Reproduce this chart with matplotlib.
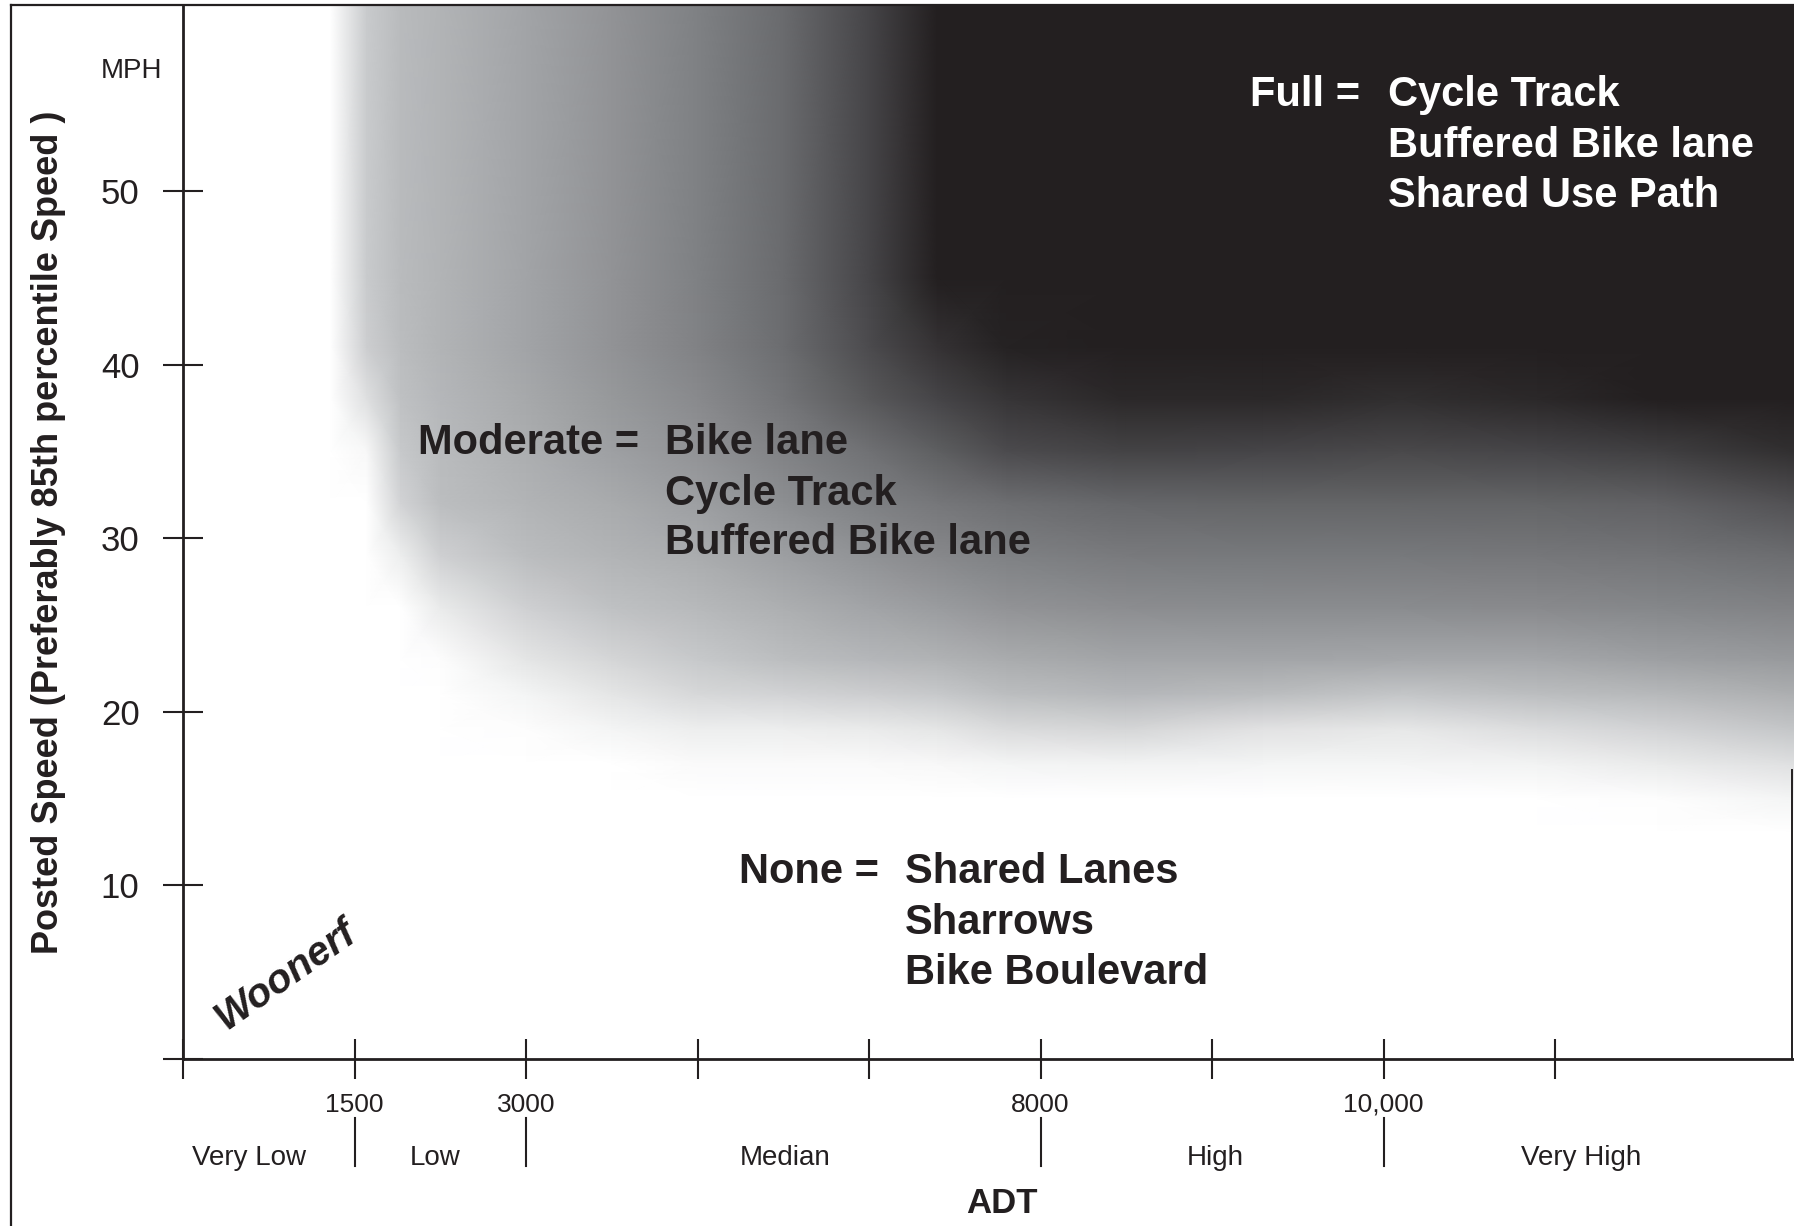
import matplotlib
matplotlib.use("Agg")
import matplotlib.pyplot as plt
import matplotlib.transforms as mtransforms
from matplotlib.colors import LinearSegmentedColormap
from matplotlib.lines import Line2D
import numpy as np

plt.rcParams['font.family'] = ['Liberation Sans', 'DejaVu Sans']

INK = '#231f20'

# ---------------- data ----------------
# ADT axis: evenly spaced tick slots
adt_tick_pos = [0, 1, 2, 3, 4, 5, 6, 7, 8]
adt_tick_labels = ['', '1500', '3000', '', '', '8000', '', '10,000', '']
adt_div_pos = [1, 2, 5, 7]
adt_categories = ['Very Low', 'Low', 'Median', 'High', 'Very High']
adt_category_pos = [0.385, 1.47, 3.51, 6.02, 8.15]

speed_ticks = [0, 10, 20, 30, 40, 50]
speed_tick_labels = ['', '10', '20', '30', '40', '50']

# shading field (0 = white ... 1 = black)
shade_x = [0, 0.86, 1.07, 1.27, 1.5, 2.0, 2.5, 3.0, 3.5, 4.0, 4.4, 4.8, 5.5, 6.3, 7.1, 7.9, 8.6, 9.4]
shade_y = [0, 13, 15, 17, 19, 21, 23, 26, 29, 32, 35, 38, 41, 45, 62]
shade_d = [
    [0, 0, 0, 0, 0, 0, 0, 0, 0, 0, 0, 0, 0, 0, 0, 0, 0, 0],
    [0, 0, 0, 0, 0, 0, 0, 0, 0, 0, 0, 0, 0, 0, 0, 0, 0, 0],
    [0, 0, 0, 0, 0, 0, 0, 0, 0, 0, 0, 0, 0, 0, 0, 0, 0.01, 0.04],
    [0, 0, 0, 0, 0, 0, 0, 0.02, 0.02, 0.02, 0.03, 0.04, 0.05, 0.04, 0.04, 0.05, 0.08, 0.12],
    [0, 0, 0, 0, 0, 0.01, 0.04, 0.07, 0.07, 0.08, 0.10, 0.14, 0.16, 0.11, 0.09, 0.13, 0.17, 0.22],
    [0, 0, 0, 0, 0, 0.04, 0.10, 0.15, 0.17, 0.19, 0.21, 0.25, 0.29, 0.26, 0.22, 0.25, 0.28, 0.34],
    [0, 0, 0, 0, 0.01, 0.10, 0.16, 0.21, 0.25, 0.29, 0.32, 0.36, 0.40, 0.40, 0.39, 0.39, 0.43, 0.47],
    [0, 0, 0, 0, 0.08, 0.18, 0.24, 0.28, 0.34, 0.41, 0.46, 0.51, 0.55, 0.56, 0.56, 0.57, 0.59, 0.62],
    [0, 0, 0, 0.07, 0.18, 0.26, 0.31, 0.36, 0.44, 0.52, 0.58, 0.63, 0.67, 0.68, 0.68, 0.69, 0.71, 0.75],
    [0, 0, 0, 0.17, 0.25, 0.31, 0.37, 0.44, 0.54, 0.63, 0.69, 0.74, 0.77, 0.78, 0.78, 0.78, 0.79, 0.84],
    [0, 0, 0.03, 0.21, 0.27, 0.35, 0.43, 0.51, 0.62, 0.73, 0.80, 0.86, 0.89, 0.88, 0.87, 0.88, 0.90, 0.95],
    [0, 0, 0.12, 0.24, 0.29, 0.38, 0.48, 0.57, 0.70, 0.82, 0.88, 0.93, 0.97, 0.97, 0.95, 0.97, 1.0, 1.0],
    [0, 0, 0.19, 0.26, 0.31, 0.41, 0.51, 0.62, 0.75, 0.86, 0.94, 0.99, 1.0, 1.0, 1.0, 1.0, 1.0, 1.0],
    [0, 0, 0.20, 0.27, 0.31, 0.41, 0.51, 0.63, 0.76, 0.88, 1.0, 1.0, 1.0, 1.0, 1.0, 1.0, 1.0, 1.0],
    [0, 0, 0.20, 0.27, 0.31, 0.41, 0.51, 0.63, 0.76, 0.88, 1.0, 1.0, 1.0, 1.0, 1.0, 1.0, 1.0, 1.0],
]

zone_full_head = 'Full ='
zone_full_items = ['Cycle Track', 'Buffered Bike lane', 'Shared Use Path']
zone_mod_head = 'Moderate ='
zone_mod_items = ['Bike lane', 'Cycle Track', 'Buffered Bike lane']
zone_none_head = 'None ='
zone_none_items = ['Shared Lanes', 'Sharrows', 'Bike Boulevard']

# ---------------- figure ----------------
W, H = 1794, 1226
fig = plt.figure(figsize=(W / 100, H / 100), dpi=100)
fig.patch.set_facecolor('white')

ax_left, ax_top, ax_bottom = 183, 5, 1059
ax = fig.add_axes([ax_left / W, (H - ax_bottom) / H, (W - ax_left) / W, (ax_bottom - ax_top) / H])
px_per_x = 171.5
px_per_y = 17.36
ax.set_xlim(0, (W - ax_left) / px_per_x)
ax.set_ylim(0, (ax_bottom - ax_top) / px_per_y)

cmap = LinearSegmentedColormap.from_list(
    'bw', [(0, '#ffffff'), (0.25, '#bcbec0'), (0.5, '#939598'),
           (0.75, '#6d6e71'), (0.9, '#414042'), (1.0, INK)])
ax.pcolormesh(shade_x, shade_y, np.array(shade_d), shading='gouraud',
              cmap=cmap, vmin=0, vmax=1, zorder=0)

for s in ['top', 'right']:
    ax.spines[s].set_visible(False)
for s in ['left', 'bottom']:
    ax.spines[s].set_color(INK)
    ax.spines[s].set_linewidth(2.0)
    ax.spines[s].set_zorder(3)

ax.set_xticks(adt_tick_pos)
ax.set_xticklabels(adt_tick_labels)
ax.set_yticks(speed_ticks)
ax.set_yticklabels(speed_tick_labels)
ax.tick_params(axis='both', direction='inout', length=28.5, width=1.5,
               color=INK, labelcolor=INK)
ax.tick_params(axis='y', pad=17, labelsize=25)
ax.tick_params(axis='x', pad=10, labelsize=19)


def ay(py):
    return (ax_bottom - py) / (ax_bottom - ax_top)


def dx(px):
    return (px - ax_left) / px_per_x


def dy(py):
    return (ax_bottom - py) / px_per_y


blend = mtransforms.blended_transform_factory(ax.transData, ax.transAxes)

# category dividers and labels
for p in adt_div_pos:
    ax.plot([p, p], [ay(1118), ay(1166)], transform=blend, color=INK,
            lw=1.5, clip_on=False)
for name, p in zip(adt_categories, adt_category_pos):
    ax.text(p, ay(1165), name, transform=blend, ha='center', va='baseline',
            fontsize=20, color=INK)

ax.set_xlabel('ADT', fontsize=25, fontweight='bold', color=INK)
ax.xaxis.set_label_coords((1002 - ax_left) / (W - ax_left), ay(1213))
ax.xaxis.label.set_va('baseline')

ax.set_ylabel('Posted Speed (Preferably 85th percentile Speed )', fontsize=26,
              fontweight='bold', color=INK)
ax.yaxis.set_label_coords((48.7 - ax_left) / (W - ax_left), ay(532))
ax.yaxis.label.set_va('center')

ax.text((131 - ax_left) / (W - ax_left), ay(71), 'MPH', transform=ax.transAxes,
        ha='center', va='center', fontsize=20, color=INK)


def block(head, items, head_right, items_left, baselines, color):
    ax.text(dx(head_right), dy(baselines[0]), head, ha='right', va='baseline',
            fontsize=30, fontweight='bold', color=color)
    for it, b in zip(items, baselines):
        ax.text(dx(items_left), dy(b), it, ha='left', va='baseline',
                fontsize=30, fontweight='bold', color=color)


block(zone_full_head, zone_full_items, 1360, 1388, [106, 157, 207], 'white')
block(zone_mod_head, zone_mod_items, 639, 665, [454, 505, 554], INK)
block(zone_none_head, zone_none_items, 879, 905, [883, 934, 984], INK)

ax.text(dx(285), dy(975), 'Woonerf', rotation=35, rotation_mode='anchor',
        ha='center', va='center', fontsize=29, fontweight='bold',
        fontstyle='italic', color=INK)

# frame lines
fig.add_artist(Line2D([11 / W, 11 / W], [0, (H - 5) / H], transform=fig.transFigure,
                      color=INK, lw=1.6))
fig.add_artist(Line2D([11 / W, 1], [(H - 5) / H, (H - 5) / H], transform=fig.transFigure,
                      color=INK, lw=1.6))
fig.add_artist(Line2D([1792 / W, 1792 / W], [(H - 1059) / H, (H - 770) / H],
                      transform=fig.transFigure, color=INK, lw=1.4))

fig.savefig('out.png', dpi=100)
